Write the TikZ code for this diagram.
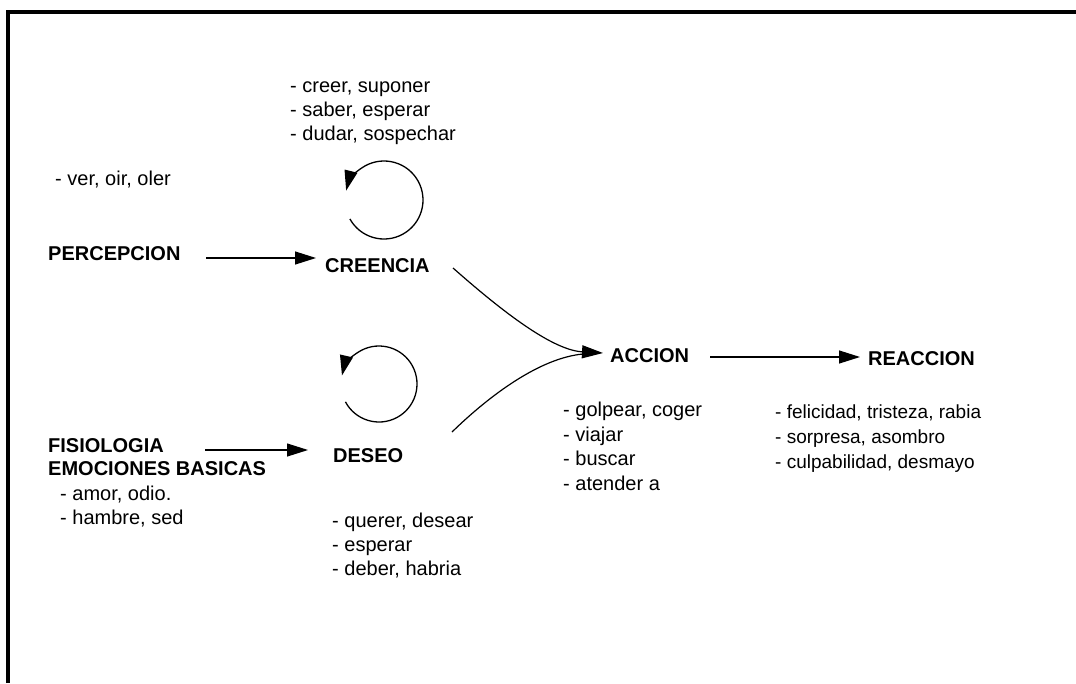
\documentclass[tikz,border=0pt]{standalone}
\usepackage{fontspec}
\setmainfont{Liberation Sans}
\usetikzlibrary{arrows.meta}
\begin{document}
\begin{tikzpicture}[x=1pt,y=-1pt,
  lbl/.style={anchor=base west, inner sep=0pt, font=\fontsize{20}{24}\selectfont\bfseries},
  itm/.style={anchor=base west, inner sep=0pt, font=\fontsize{20}{24}\selectfont},
  itmr/.style={itm, font=\fontsize{19}{23}\selectfont},
  arr/.style={-{Triangle[length=21pt,width=13pt]}, line width=1.2pt},
  loopline/.style={line width=1.3pt, -{Triangle[length=20pt,width=13pt]}},
  frame/.style={line width=4pt, line join=miter}]
\useasboundingbox (0,0) rectangle (1076,683);
\draw[frame] (8,683) -- (8,12) -- (1076,12);

% labels
\node[lbl] (perc) at (48,260) {PERCEPCION};
\node[lbl] (cre) at (325,272) {CREENCIA};
\node[lbl] (fis) at (48,452) {FISIOLOGIA};
\node[lbl] (emo) at (48,475) {EMOCIONES BASICAS};
\node[lbl] (des) at (333,462) {DESEO};
\node[lbl] (acc) at (610,362) {ACCION};
\node[lbl] (rea) at (868,365) {REACCION};

% lists
\node[itm] (v1) at (55,185) {- ver, oir, oler};
\node[itm] (c1) at (290,92) {- creer, suponer};
\node[itm] (c2) at (290,116) {- saber, esperar};
\node[itm] (c3) at (290,140) {- dudar, sospechar};
\node[itm] (e1) at (60,500) {- amor, odio.};
\node[itm] (e2) at (60,524) {- hambre, sed};
\node[itm] (d1) at (332,527) {- querer, desear};
\node[itm] (d2) at (332,551) {- esperar};
\node[itm] (d3) at (332,575) {- deber, habria};
\node[itm] (a1) at (563,416) {- golpear, coger};
\node[itm] (a2) at (563,441) {- viajar};
\node[itm] (a3) at (563,465) {- buscar};
\node[itm] (a4) at (563,490) {- atender a};
\node[itmr] (r1) at (775,418) {- felicidad, tristeza, rabia};
\node[itmr] (r2) at (775,443) {- sorpresa, asombro};
\node[itmr] (r3) at (775,468) {- culpabilidad, desmayo};

% connector ends
\coordinate (percout) at (206,258);
\coordinate (crein) at (316,258);
\coordinate (fisout) at (205,450);
\coordinate (desin) at (308,450);
\coordinate (creout) at (453,268);
\coordinate (desout) at (452,432);
\coordinate (accin) at (603,353);
\coordinate (accbase) at (583,354);
\coordinate (accout) at (710,357);
\coordinate (reain) at (860,357);
\coordinate (creloop) at (384,200);
\coordinate (desloop) at (379,384);

\draw[arr] (percout) -- (crein);
\draw[arr] (fisout) -- (desin);
\draw[arr] (accout) -- (reain);
\draw[arr] (creout) .. controls (495,305) and (550,350) .. (accin);
\draw[line width=1.2pt] (desout) .. controls (490,395) and (540,358) .. (accbase);

\draw[loopline] (creloop) ++(151:39) arc[start angle=151, end angle=-166, radius=39];
\draw[loopline] (desloop) ++(152:38) arc[start angle=152, end angle=-167, radius=38];
\end{tikzpicture}
\end{document}
